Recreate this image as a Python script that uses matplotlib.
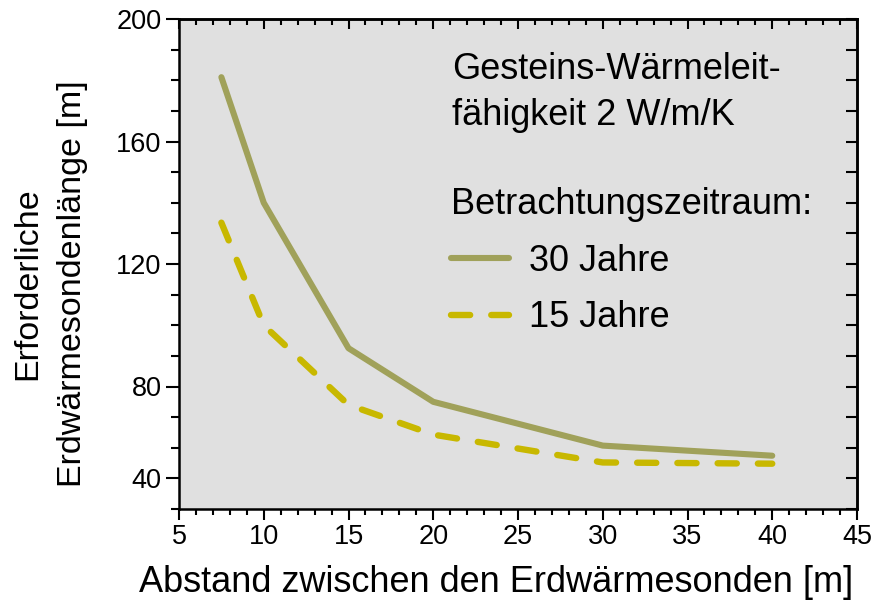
import matplotlib
matplotlib.use("Agg")
import matplotlib.pyplot as plt
from matplotlib.ticker import MultipleLocator

plt.rcParams["font.family"] = ["Liberation Sans", "DejaVu Sans"]

# Abstand [m] und erforderliche Sondenlaenge [m]
abstand = [7.5, 10, 15, 20, 30, 40]
laenge_30 = [181, 140, 92.5, 75, 60.7, 57.4]
laenge_15 = [133.5, 100, 74, 64.3, 55.2, 54.8]

ytick_pos = [50, 80, 120, 160, 200]
ytick_lab = ["40", "80", "120", "160", "200"]
xtick_pos = [5, 10, 15, 20, 25, 30, 35, 40, 45]

c30 = "#a0a15a"
c15 = "#c8b800"

fig = plt.figure(figsize=(8.71, 6.10), dpi=100)
ax = fig.add_axes([179 / 871, 1 - 509 / 610, 678 / 871, 490 / 610])
ax.set_facecolor("#e0e0e0")

ax.plot(abstand, laenge_30, color=c30, lw=4.4, solid_capstyle="round",
        solid_joinstyle="round", label="30 Jahre")
ax.plot(abstand, laenge_15, color=c15, lw=4.6, dashes=(3.0, 3.3),
        dash_capstyle="round", label="15 Jahre")

ax.set_xlim(5, 45)
ax.set_ylim(40, 200)
ax.set_xticks(xtick_pos)
ax.set_yticks(ytick_pos, labels=ytick_lab)
ax.xaxis.set_minor_locator(MultipleLocator(1))
ax.yaxis.set_minor_locator(MultipleLocator(10))

for s in ax.spines.values():
    s.set_linewidth(1.8)
ax.tick_params(axis="both", which="both", direction="out", width=1.5,
               labelsize=19.5, pad=3)
ax.tick_params(axis="x", which="major", length=8)
ax.tick_params(axis="x", which="minor", length=4)
ax.tick_params(axis="y", which="major", length=9.5)
ax.tick_params(axis="y", which="minor", length=6)

top = ax.secondary_xaxis("top")
top.set_xticks(xtick_pos, labels=[])
top.xaxis.set_minor_locator(MultipleLocator(1))
top.tick_params(which="both", direction="in", width=1.5)
top.tick_params(which="major", length=7)
top.tick_params(which="minor", length=4.5)
top.spines["top"].set_linewidth(1.8)

right = ax.secondary_yaxis("right")
right.set_yticks(ytick_pos, labels=[])
right.yaxis.set_minor_locator(MultipleLocator(10))
right.tick_params(which="both", direction="in", width=1.5, length=8)
right.spines["right"].set_linewidth(1.8)

ax.set_xlabel("Abstand zwischen den Erdwärmesonden [m]", fontsize=26)
ax.xaxis.set_label_coords((496 - 179) / 678, -0.115)
ax.set_ylabel("Erforderliche\nErdwärmesondenlänge [m]", fontsize=24.5,
              linespacing=1.6, va="center")
ax.yaxis.set_label_coords((50 - 179) / 678, 0.46)

ax.text(0.403, 0.932, "Gesteins-Wärmeleit-\nfähigkeit 2 W/m/K",
        transform=ax.transAxes, fontsize=26, va="top", ha="left",
        linespacing=1.4)

leg = ax.legend(title="Betrachtungszeitraum:", loc="upper left",
                bbox_to_anchor=(0.401, 0.657), frameon=False, fontsize=26,
                title_fontsize=26, alignment="left", handlelength=1.6,
                handletextpad=0.55, labelspacing=0.6, borderpad=0,
                borderaxespad=0)

fig.savefig("out.png", dpi=100)
